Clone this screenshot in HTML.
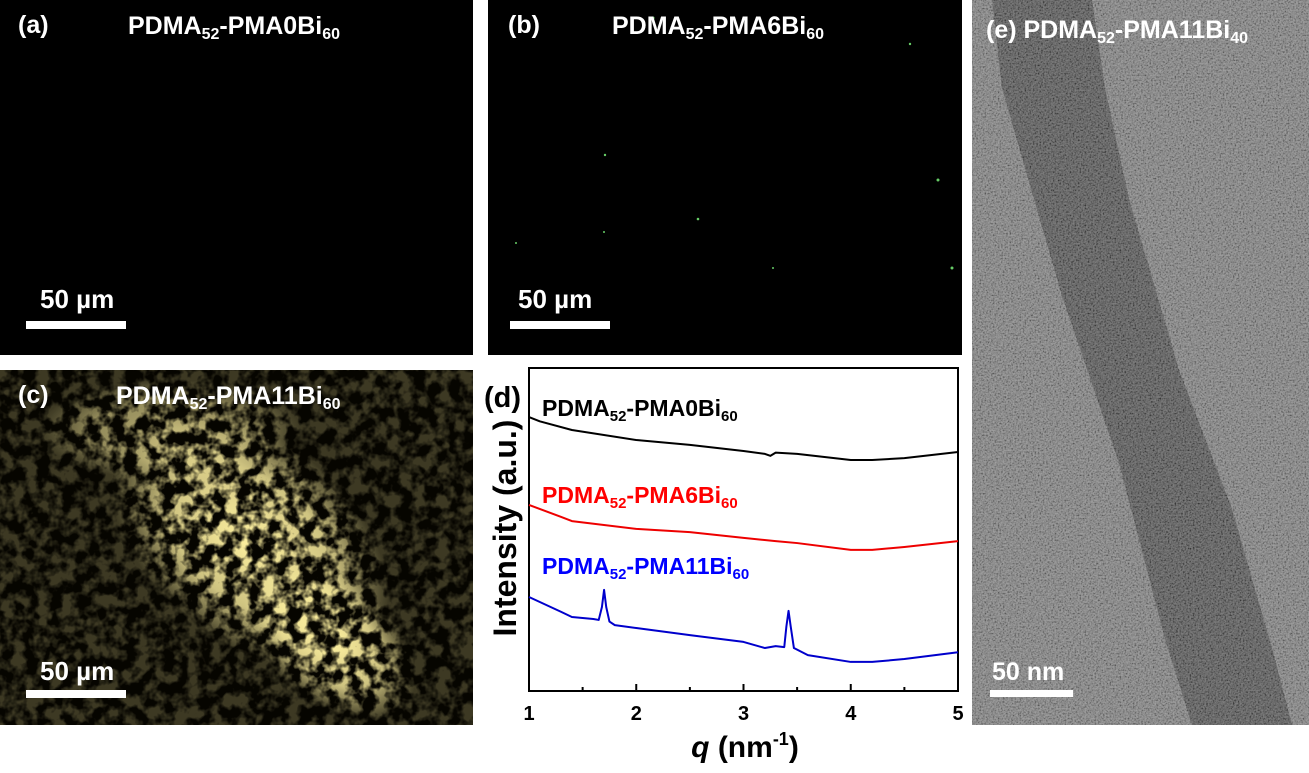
<!DOCTYPE html>
<html><head><meta charset="utf-8">
<style>
body{margin:0;background:#fff;width:1309px;height:773px;overflow:hidden;font-family:"Liberation Sans",sans-serif}
svg{position:absolute;left:0;top:0}
</style></head>
<body>
<svg width="1309" height="773" viewBox="0 0 1309 773">
<defs>
<filter id="tex" x="0" y="0" width="100%" height="100%">
<feTurbulence type="fractalNoise" baseFrequency="0.08" numOctaves="3" seed="4" result="n"/>
<feColorMatrix in="n" type="matrix" values="0 0 0 0 1  0 0 0 0 0.88  0 0 0 0 0.35  4 0 0 0 -1.6" result="y"/>
<feComposite in="y" in2="SourceGraphic" operator="in"/>
</filter>
<filter id="grain" x="0" y="0" width="100%" height="100%">
<feTurbulence type="fractalNoise" baseFrequency="0.6" numOctaves="2" seed="2" result="n"/>
<feColorMatrix in="n" type="matrix" values="2 0 0 0 -0.5  2 0 0 0 -0.5  2 0 0 0 -0.5  0 0 0 0 0.28"/>
</filter>
<radialGradient id="blob" cx="0.5" cy="0.5" r="0.5">
<stop offset="0" stop-color="#fff" stop-opacity="1"/>
<stop offset="0.6" stop-color="#fff" stop-opacity="0.75"/>
<stop offset="1" stop-color="#fff" stop-opacity="0"/>
</radialGradient>
</defs>

<g>
<rect x="0" y="0" width="473" height="355" fill="#000"/>
<text x="18" y="33" fill="#fff" font-size="25" font-weight="bold">(a)</text>
<text x="128" y="34" fill="#fff" font-size="25" font-weight="bold">PDMA<tspan font-size="16" dy="5">52</tspan><tspan dy="-5">-PMA0Bi</tspan><tspan font-size="16" dy="5">60</tspan></text>
<text x="40" y="308" fill="#fff" font-size="26" font-weight="bold">50 µm</text>
<rect x="26" y="321" width="100" height="8" fill="#fff"/>
</g>

<g>
<rect x="488" y="0" width="474" height="355" fill="#000"/>
<g fill="#6c6">
<circle cx="653" cy="18" r="1.5"/><circle cx="910" cy="44" r="1.2"/><circle cx="605" cy="155" r="1.2"/>
<circle cx="938" cy="180" r="1.5"/><circle cx="698" cy="219" r="1.3"/><circle cx="604" cy="232" r="1"/>
<circle cx="952" cy="268" r="1.5"/><circle cx="773" cy="268" r="1"/><circle cx="516" cy="243" r="1"/>
</g>
<text x="508" y="33" fill="#fff" font-size="25" font-weight="bold">(b)</text>
<text x="612" y="34" fill="#fff" font-size="25" font-weight="bold">PDMA<tspan font-size="16" dy="5">52</tspan><tspan dy="-5">-PMA6Bi</tspan><tspan font-size="16" dy="5">60</tspan></text>
<text x="518" y="308" fill="#fff" font-size="26" font-weight="bold">50 µm</text>
<rect x="510" y="321" width="100" height="8" fill="#fff"/>
</g>

<g>
<rect x="0" y="370" width="473" height="355" fill="#060500"/>
<svg x="0" y="370" width="473" height="355">
<g filter="url(#tex)">
<rect x="0" y="0" width="473" height="355" fill="#fff" opacity="0.22"/>
<ellipse cx="250" cy="170" rx="160" ry="100" transform="rotate(40 250 170)" fill="url(#blob)"/>
<ellipse cx="330" cy="270" rx="100" ry="60" transform="rotate(40 330 270)" fill="url(#blob)"/>
<ellipse cx="170" cy="60" rx="130" ry="50" fill="url(#blob)" opacity="0.6"/>
</g>
</svg>
<text x="18" y="403" fill="#fff" font-size="25" font-weight="bold">(c)</text>
<text x="116" y="404" fill="#fff" font-size="25" font-weight="bold">PDMA<tspan font-size="16" dy="5">52</tspan><tspan dy="-5">-PMA11Bi</tspan><tspan font-size="16" dy="5">60</tspan></text>
<text x="40" y="680" fill="#fff" font-size="26" font-weight="bold">50 µm</text>
<rect x="26" y="690" width="100" height="8" fill="#fff"/>
</g>

<g>
<rect x="972" y="0" width="337" height="725" fill="#7a7a7a"/>
<polygon fill="#4c4c4c" points="992,0 1002,88 1062,296 1119,463 1165,639 1192,725 1292,725 1272,648 1232,509 1179,370 1129,199 1105,88 1092,0"/>
<rect x="972" y="0" width="337" height="725" filter="url(#grain)"/>
<text x="986" y="38" fill="#fff" font-size="25" font-weight="bold">(e) PDMA<tspan font-size="16" dy="5">52</tspan><tspan dy="-5">-PMA11Bi</tspan><tspan font-size="16" dy="5">40</tspan></text>
<text x="992" y="680" fill="#fff" font-size="25" font-weight="bold">50 nm</text>
<rect x="990" y="690" width="83" height="7" fill="#fff"/>
</g>

<g id="chart">
<text x="484" y="407" font-size="29" font-weight="bold">(d)</text>
<text x="542" y="416" font-size="23" font-weight="bold" fill="#000">PDMA<tspan font-size="15" dy="5">52</tspan><tspan dy="-5">-PMA0Bi</tspan><tspan font-size="15" dy="5">60</tspan></text>
<text x="542" y="503" font-size="23" font-weight="bold" fill="#f00">PDMA<tspan font-size="15" dy="5">52</tspan><tspan dy="-5">-PMA6Bi</tspan><tspan font-size="15" dy="5">60</tspan></text>
<text x="542" y="574" font-size="23" font-weight="bold" fill="#00f">PDMA<tspan font-size="15" dy="5">52</tspan><tspan dy="-5">-PMA11Bi</tspan><tspan font-size="15" dy="5">60</tspan></text>
<text transform="translate(516,528) rotate(-90)" text-anchor="middle" font-size="32" font-weight="bold">Intensity (a.u.)</text>
<text x="745" y="757" text-anchor="middle" font-size="30" font-weight="bold"><tspan font-style="italic">q</tspan> (nm<tspan font-size="18" dy="-12">-1</tspan><tspan dy="12">)</tspan></text>
</g>
</svg>
<script>
const qBlack=[1,1.1,1.4,2,2.5,3,3.2,3.25,3.3,3.5,4,4.2,4.5,5];
const iBlack=[84.8,83.5,80.8,77.7,76.2,74.3,73.4,72.8,73.8,73.4,71.5,71.5,72.1,74];
const qRed=[1,1.3,1.4,2,2.5,3,3.3,3.5,4,4.2,4.5,5];
const iRed=[57.6,53.9,52.6,50.2,49.2,47.4,46.4,45.8,43.7,43.7,44.6,46.4];
const qBlue=[1,1.3,1.4,1.6,1.65,1.68,1.7,1.72,1.75,1.8,2,2.5,3,3.2,3.3,3.38,3.4,3.42,3.44,3.47,3.6,4,4.2,4.5,5];
const iBlue=[29.1,24.5,22.9,22.3,22,26,31.3,26,21.5,20.4,19.5,17.3,15.2,13.3,13.9,13.6,20,24.8,20,13.3,11.1,9,9,9.9,12];
const xTicks=[1,2,3,4,5];
const xDomain=[1,5], yDomain=[0,100];
const X0=529,X1=958,Y0=691,Y1=368;
const xs=v=>X0+(v-xDomain[0])/(xDomain[1]-xDomain[0])*(X1-X0);
const ys=v=>Y0-(v-yDomain[0])/(yDomain[1]-yDomain[0])*(Y0-Y1);
const NS='http://www.w3.org/2000/svg';
const chart=document.getElementById('chart');
function mk(t,a){const e=document.createElementNS(NS,t);for(const k in a)e.setAttribute(k,a[k]);chart.appendChild(e);return e;}
const frame=mk('rect',{x:X0,y:Y1,width:X1-X0,height:Y0-Y1,fill:'none',stroke:'#000','stroke-width':2});


for(let v=1;v<=5.001;v+=0.5){
  const major=Math.abs(v-Math.round(v))<1e-6;
  const t=mk('line',{x1:xs(v),x2:xs(v),y1:Y0,y2:Y0-(major?7:4),stroke:'#000','stroke-width':2});
  
  
}
xTicks.forEach(v=>{
  const t=mk('text',{x:xs(v),y:720,'text-anchor':'middle','font-size':20,'font-weight':'bold'});
  t.textContent=v;
  
  
});
function line(q,I,color,name){
  const p=mk('polyline',{points:q.map((v,i)=>xs(v)+','+ys(I[i])).join(' '),fill:'none',stroke:color,'stroke-width':2,'stroke-linejoin':'round'});
  
  
}
line(qBlack,iBlack,'#000','series-pma0');
line(qRed,iRed,'#e00','series-pma6');
line(qBlue,iBlue,'#00c','series-pma11');
</script>
</body></html>
